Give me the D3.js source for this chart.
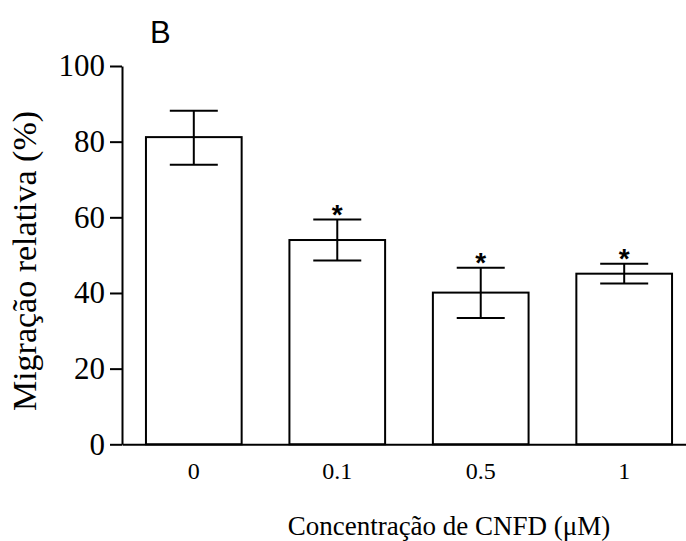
<!DOCTYPE html>
<html>
<head>
<meta charset="utf-8">
<script src="https://cdn.jsdelivr.net/npm/d3@7"></script>
<style>
  body { margin: 0; background: #fff; }
  svg { display: block; }
</style>
</head>
<body>
<svg id="chart" width="686" height="541"></svg>
<script>
// data
let concentrations = ["0", "0.1", "0.5", "1"];
let migration = [81.2, 54.0, 40.1, 45.1];
let errUpper = [88.2, 59.4, 46.7, 47.7];
let errLower = [73.9, 48.6, 33.4, 42.5];
let significant = [false, true, true, true];
let yTicks = [0, 20, 40, 60, 80, 100];

let svg = d3.select("#chart");

let marginLeft = 122, plotTop = 66, plotBottom = 444.3, plotRight = 696;

let yScale = d3.scaleLinear()
    .domain([0, 100])
    .range([plotBottom, plotTop]);

let xScale = d3.scaleBand()
    .domain(concentrations)
    .range([marginLeft, plotRight])
    .paddingInner(0.333)
    .paddingOuter(0.167);

let data = concentrations.map((c, i) => ({
    c: c, v: migration[i], hi: errUpper[i], lo: errLower[i], sig: significant[i]
}));

// bars
svg.append("g").selectAll("rect")
    .data(data)
    .enter().append("rect")
    .attr("x", d => xScale(d.c))
    .attr("y", d => yScale(d.v))
    .attr("width", xScale.bandwidth())
    .attr("height", d => yScale(0) - yScale(d.v))
    .attr("fill", "#fff")
    .attr("stroke", "#000")
    .attr("stroke-width", 2);

// error bars
let capW = 24;
let eb = svg.append("g").attr("stroke", "#000").attr("stroke-width", 2);
data.forEach(d => {
    let cx = xScale(d.c) + xScale.bandwidth() / 2;
    eb.append("line").attr("x1", cx).attr("x2", cx)
        .attr("y1", yScale(d.hi)).attr("y2", yScale(d.lo));
    eb.append("line").attr("x1", cx - capW).attr("x2", cx + capW)
        .attr("y1", yScale(d.hi)).attr("y2", yScale(d.hi));
    eb.append("line").attr("x1", cx - capW).attr("x2", cx + capW)
        .attr("y1", yScale(d.lo)).attr("y2", yScale(d.lo));
});

// asterisks
svg.append("g").selectAll("text")
    .data(data.filter(d => d.sig))
    .enter().append("text")
    .attr("x", d => xScale(d.c) + xScale.bandwidth() / 2)
    .attr("y", d => yScale(d.hi) + 4)
    .attr("text-anchor", "middle")
    .attr("font-family", "Arial, 'Liberation Sans', sans-serif")
    .attr("font-weight", "bold")
    .attr("font-size", 28)
    .text("*");

// y axis
let yAxis = d3.axisLeft(yScale)
    .tickValues(yTicks)
    .tickSizeInner(12)
    .tickSizeOuter(0)
    .tickPadding(5)
    .tickFormat(d3.format("d"));
let yg = svg.append("g")
    .attr("transform", "translate(" + marginLeft + ",0)")
    .call(yAxis);
yg.select(".domain").attr("stroke-width", 2);
yg.selectAll(".tick line").attr("stroke-width", 2);
yg.selectAll("text")
    .attr("font-family", "'Times New Roman', 'Liberation Serif', serif")
    .attr("font-size", 31)
    .attr("fill", "#000");

// x axis
let xAxis = d3.axisBottom(xScale)
    .tickSize(0)
    .tickPadding(18);
let xg = svg.append("g")
    .attr("transform", "translate(0," + plotBottom + ")")
    .call(xAxis);
xg.select(".domain").attr("stroke-width", 2);
xg.selectAll("text")
    .attr("font-family", "'Times New Roman', 'Liberation Serif', serif")
    .attr("font-size", 24)
    .attr("fill", "#000");

// axis titles
svg.append("text")
    .attr("transform", "translate(36,261) rotate(-90)")
    .attr("text-anchor", "middle")
    .attr("font-family", "'Times New Roman', 'Liberation Serif', serif")
    .attr("font-size", 34)
    .text("Migração relativa (%)");

svg.append("text")
    .attr("x", 449)
    .attr("y", 535)
    .attr("text-anchor", "middle")
    .attr("font-family", "'Times New Roman', 'Liberation Serif', serif")
    .attr("font-size", 27)
    .text("Concentração de CNFD (μM)");

// panel letter
svg.append("text")
    .attr("x", 150)
    .attr("y", 43)
    .attr("font-family", "Arial, 'Liberation Sans', sans-serif")
    .attr("font-size", 31)
    .text("B");
</script>
</body>
</html>
